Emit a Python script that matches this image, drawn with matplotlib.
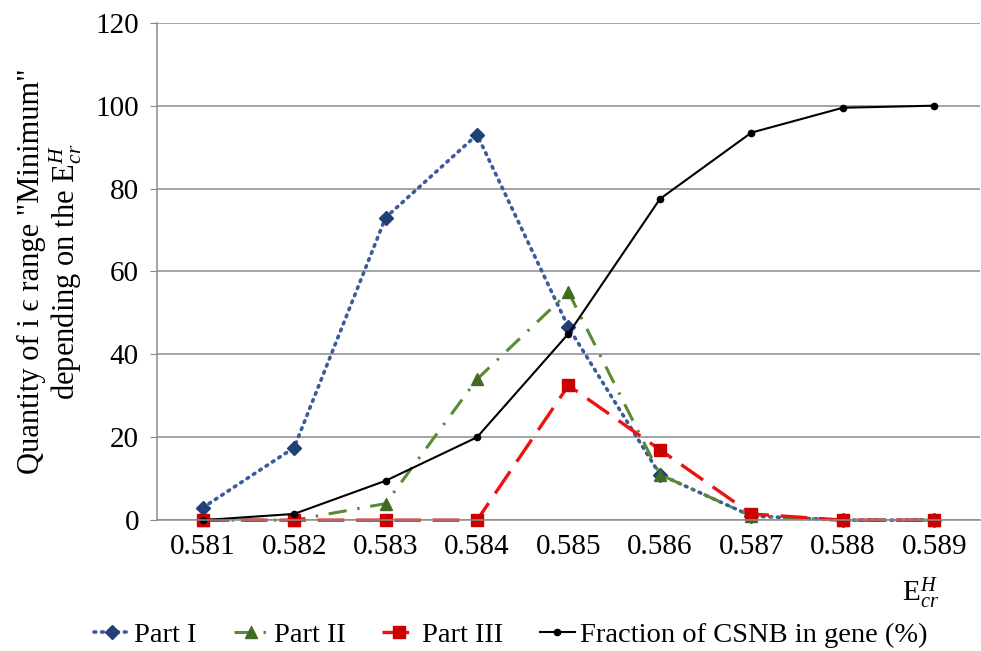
import matplotlib.pyplot as plt
import numpy as np

categories = ["0.581", "0.582", "0.583", "0.584", "0.585", "0.586", "0.587", "0.588", "0.589"]
part1 = [3, 17.5, 73, 93, 46.5, 11, 1, 0, 0]
part2 = [0, 0, 4, 34, 55, 11, 1, 0, 0]
part3 = [0, 0, 0, 0, 32.5, 17, 1.5, 0, 0]
fraction = [0, 1.5, 9.5, 20, 45, 77.5, 93.5, 99.5, 100]
yticks = [0, 20, 40, 60, 80, 100, 120]

plt.rcParams['font.family'] = ['Liberation Serif', 'DejaVu Serif']
plt.rcParams['mathtext.fontset'] = 'custom'
plt.rcParams['mathtext.rm'] = 'Liberation Serif'
plt.rcParams['mathtext.it'] = 'Liberation Serif:italic'

fig = plt.figure(figsize=(9.81, 6.51), dpi=100)
ax = fig.add_axes([0.160, 0.201, 0.839, 0.764])
x = np.arange(len(categories))

ax.plot(x, part1, color='#3b5b9c', linestyle=(0, (0.5, 1.6)), dash_capstyle='round', lw=2.6,
        marker='D', markersize=7.5, markerfacecolor='#213f78', markeredgecolor='#213f78',
        label='Part I', clip_on=False)
ax.plot(x, part2, color='#5a8a34', linestyle=(0, (6, 3.5, 0.8, 3.5)), lw=2.2,
        marker='^', markersize=9, markerfacecolor='#3f6b22', markeredgecolor='#3f6b22',
        label='Part II', clip_on=False)
ax.plot(x, part3, color='#ee1111', linestyle=(0, (8, 3.5)), lw=2.4,
        marker='s', markersize=9, markerfacecolor='#cc0000', markeredgecolor='#cc0000',
        label='Part III', clip_on=False)
ax.plot(x, fraction, color='black', lw=1.5, marker='o', markersize=4.5,
        label='Fraction of CSNB in gene (%)', clip_on=False)

ax.set_xlim(-0.5, len(categories) - 0.5)
ax.set_ylim(0, 120)
ax.set_xticks(x)
ax.set_xticklabels(categories)
ax.set_yticks(yticks)
ax.tick_params(axis='both', labelsize=21, colors='black')
ax.tick_params(axis='x', length=0, pad=10)
ax.tick_params(axis='y', length=5, color='#888888', pad=8)
ax.grid(axis='y', color='#8c8c8c', lw=1.1)
ax.set_axisbelow(True)
for s in ['top', 'right']:
    ax.spines[s].set_visible(False)
for s in ['left', 'bottom']:
    ax.spines[s].set_color('#8c8c8c')
    ax.spines[s].set_linewidth(1.1)

ax.set_ylabel('Quantity of i \u03f5 range "Minimum"\ndepending on the E$^{H}_{cr}$',
              fontsize=22, linespacing=1.05, labelpad=8)
fig.text(0.938, 0.062, 'E$^{H}_{cr}$', fontsize=21, ha='center', va='bottom')

fig.legend(loc='lower center', bbox_to_anchor=(0.521, -0.035), ncol=4, frameon=False,
           fontsize=20.5, handlelength=1.2, handletextpad=0.2, columnspacing=1.3)

fig.savefig('out.png', dpi=100)
